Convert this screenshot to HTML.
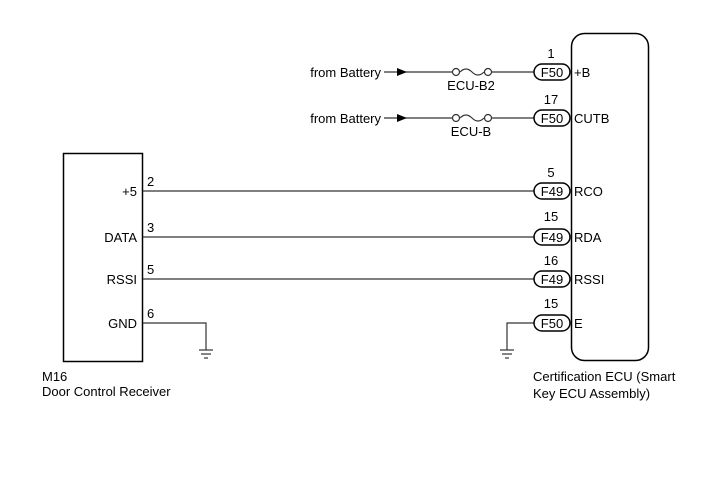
<!DOCTYPE html>
<html><head><style>body{margin:0;background:#fff}</style></head><body>
<svg width="713" height="481" xmlns="http://www.w3.org/2000/svg" font-family="Liberation Sans, sans-serif" font-size="13" fill="#000">
<rect x="0" y="0" width="713" height="481" fill="#fff"/>
<g stroke="#000" stroke-width="1.5" fill="none">
<rect x="571.5" y="33.5" width="77" height="327" rx="13"/>
<rect x="63.5" y="153.5" width="79" height="208"/>
</g>
<g stroke="#333" stroke-width="1.2" fill="none">
<line x1="384" y1="72" x2="452" y2="72"/><line x1="492" y1="72" x2="534" y2="72"/>
<line x1="384" y1="118" x2="452" y2="118"/><line x1="492" y1="118" x2="534" y2="118"/>
<circle cx="456" cy="72" r="3.5"/><circle cx="488" cy="72" r="3.5"/>
<path d="M460 72 Q466 66 472 72 Q478 78 484 72"/>
<circle cx="456" cy="118" r="3.5"/><circle cx="488" cy="118" r="3.5"/>
<path d="M460 118 Q466 112 472 118 Q478 124 484 118"/>
<line x1="143" y1="191" x2="534" y2="191"/>
<line x1="143" y1="237" x2="534" y2="237"/>
<line x1="143" y1="279" x2="534" y2="279"/>
<polyline points="143,323 206,323 206,350"/>
<polyline points="534,323 507,323 507,350"/>
<line x1="199" y1="350" x2="213" y2="350"/><line x1="201" y1="354" x2="211" y2="354"/><line x1="204" y1="358" x2="208" y2="358"/>
<line x1="500" y1="350" x2="514" y2="350"/><line x1="502" y1="354" x2="512" y2="354"/><line x1="505" y1="358" x2="509" y2="358"/>
</g>
<polygon points="397,68 407,72 397,76" fill="#000"/>
<polygon points="397,114 407,118 397,122" fill="#000"/>
<g stroke="#000" stroke-width="1.5" fill="#fff">
<rect x="534" y="64" width="36" height="16" rx="8"/>
<rect x="534" y="110" width="36" height="16" rx="8"/>
<rect x="534" y="183" width="36" height="16" rx="8"/>
<rect x="534" y="229" width="36" height="16" rx="8"/>
<rect x="534" y="271" width="36" height="16" rx="8"/>
<rect x="534" y="315" width="36" height="16" rx="8"/>
</g>
<g text-anchor="middle">
<text x="552" y="77">F50</text><text x="552" y="123">F50</text>
<text x="552" y="196">F49</text><text x="552" y="242">F49</text>
<text x="552" y="284">F49</text><text x="552" y="328">F50</text>
<text x="551" y="58">1</text><text x="551" y="104">17</text>
<text x="551" y="177">5</text><text x="551" y="221">15</text>
<text x="551" y="265">16</text><text x="551" y="308">15</text>
<text x="471" y="90">ECU-B2</text><text x="471" y="136">ECU-B</text>
</g>
<text x="574" y="77">+B</text><text x="574" y="123">CUTB</text>
<text x="574" y="196">RCO</text><text x="574" y="242">RDA</text>
<text x="574" y="284">RSSI</text><text x="574" y="328">E</text>
<text x="381" y="77" text-anchor="end">from Battery</text>
<text x="381" y="123" text-anchor="end">from Battery</text>
<g text-anchor="end">
<text x="137" y="196">+5</text><text x="137" y="242">DATA</text>
<text x="137" y="284">RSSI</text><text x="137" y="328">GND</text>
</g>
<text x="147" y="186">2</text><text x="147" y="232">3</text>
<text x="147" y="274">5</text><text x="147" y="318">6</text>
<text x="42" y="381">M16</text><text x="42" y="396">Door Control Receiver</text>
<text x="533" y="381">Certification ECU (Smart</text><text x="533" y="398">Key ECU Assembly)</text>
</svg>
</body></html>
